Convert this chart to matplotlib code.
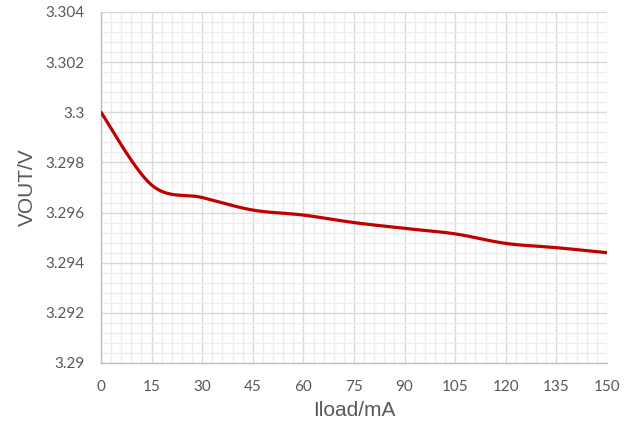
import numpy as np
import matplotlib
matplotlib.use("Agg")
import matplotlib.pyplot as plt
from matplotlib.ticker import MultipleLocator, FuncFormatter

# load current (mA) and output voltage (V)
iload = [0, 15, 30, 45, 60, 75, 90, 105, 120, 135, 150]
vout = [3.3000, 3.2971, 3.2966, 3.2961, 3.2959, 3.2956, 3.29537, 3.29515,
        3.29477, 3.2946, 3.2944]


def smooth_line(xs, ys, n=40):
    # Excel-style smoothed line: Catmull-Rom segments as cubic Beziers
    xs = np.asarray(xs, float)
    ys = np.asarray(ys, float)
    px = np.concatenate([[xs[0]], xs, [xs[-1]]])
    py = np.concatenate([[ys[0]], ys, [ys[-1]]])
    t = np.linspace(0, 1, n)
    out_x, out_y = [], []
    for i in range(1, len(px) - 2):
        p0 = np.array([px[i], py[i]])
        p3 = np.array([px[i + 1], py[i + 1]])
        c1 = p0 + (p3 - np.array([px[i - 1], py[i - 1]])) / 6
        c2 = p3 - (np.array([px[i + 2], py[i + 2]]) - p0) / 6
        pts = ((1 - t)[:, None] ** 3 * p0 + 3 * ((1 - t) ** 2 * t)[:, None] * c1
               + 3 * ((1 - t) * t ** 2)[:, None] * c2 + (t ** 3)[:, None] * p3)
        out_x.extend(pts[:, 0])
        out_y.extend(pts[:, 1])
    return out_x, out_y


fig = plt.figure(figsize=(6.32, 4.34), dpi=100)
ax = fig.add_axes([0.1598, 0.1636, 0.8006, 0.8088])

sx, sy = smooth_line(iload, vout)
ax.plot(sx, sy, color="#C00000", linewidth=2.3, solid_capstyle="round", zorder=3)

ax.set_xlim(0, 150)
ax.set_ylim(3.29, 3.304)
ax.xaxis.set_major_locator(MultipleLocator(15))
ax.xaxis.set_minor_locator(MultipleLocator(3))
ax.yaxis.set_major_locator(MultipleLocator(0.002))
ax.yaxis.set_minor_locator(MultipleLocator(0.0004))
ax.yaxis.set_major_formatter(FuncFormatter(lambda v, p: f"{v:.3f}".rstrip("0").rstrip(".")))

ax.grid(which="minor", color="#EDEDED", linewidth=1.0, zorder=0)
ax.grid(which="major", color="#D9D9D9", linewidth=1.0, zorder=1)
ax.set_axisbelow(True)

for side in ["top", "right"]:
    ax.spines[side].set_visible(False)
for side in ["left", "bottom"]:
    ax.spines[side].set_color("#BFBFBF")
    ax.spines[side].set_linewidth(1.0)

ax.tick_params(which="both", length=0)
ax.tick_params(axis="y", pad=12, labelsize=11, labelcolor="#595959")
ax.tick_params(axis="x", pad=12, labelsize=11, labelcolor="#595959")
for lbl in ax.get_xticklabels() + ax.get_yticklabels():
    lbl.set_family("Lato")

ax.set_xlabel("Iload/mA", fontsize=15, color="#595959", family="Liberation Sans", labelpad=5)
ax.set_ylabel("VOUT/V", fontsize=15, color="#595959", family="Liberation Sans", labelpad=6)

fig.savefig("out.png", dpi=100)
